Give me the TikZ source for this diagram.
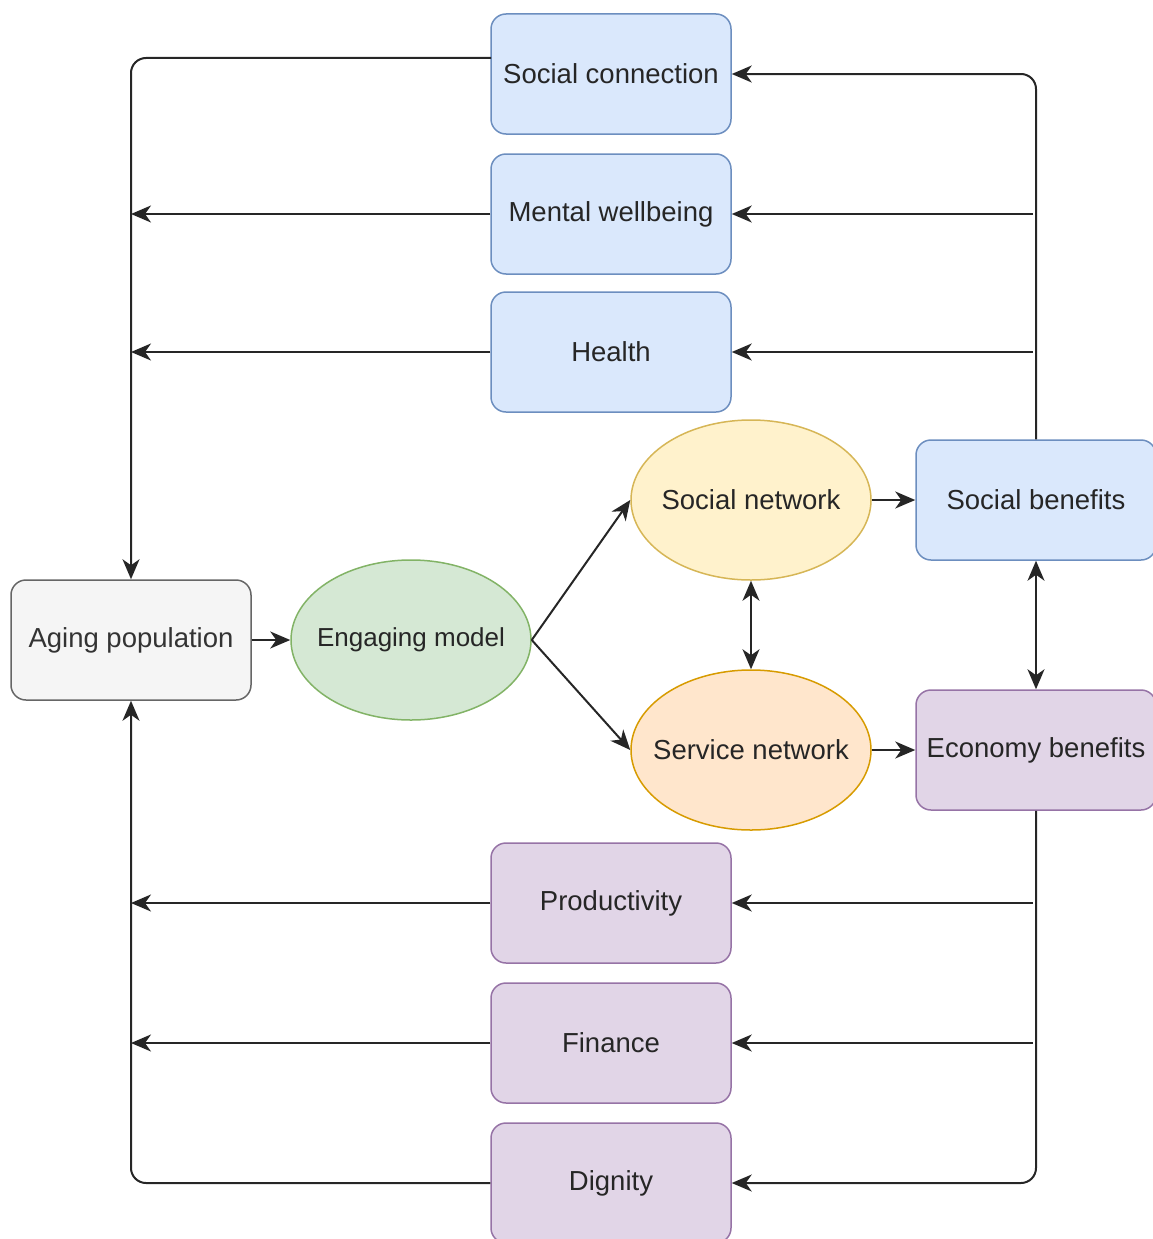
\documentclass[tikz,border=0pt]{standalone}
\usepackage{fontspec}
\setmainfont{Liberation Sans}
\usetikzlibrary{arrows.meta,shapes.geometric}

\definecolor{bluefill}{HTML}{DAE8FC}\definecolor{bluedraw}{HTML}{6C8EBF}
\definecolor{greenfill}{HTML}{D5E8D4}\definecolor{greendraw}{HTML}{82B366}
\definecolor{yellowfill}{HTML}{FFF2CC}\definecolor{yellowdraw}{HTML}{D6B656}
\definecolor{orangefill}{HTML}{FFE6CC}\definecolor{orangedraw}{HTML}{D79B00}
\definecolor{purplefill}{HTML}{E1D5E7}\definecolor{purpledraw}{HTML}{9673A6}
\definecolor{grayfill}{HTML}{F5F5F5}\definecolor{graydraw}{HTML}{666666}
\definecolor{graytext}{HTML}{333333}

% label set in a zero-width box, so an ellipse keeps its fixed size
\newcommand\ovallabel[1]{\makebox[0pt]{#1}}

\tikzset{
  base/.style={line width=1.5pt, font=\fontsize{27.5}{33}\selectfont, text=black!85, inner sep=0pt, align=center},
  box/.style={base, rectangle, rounded corners=15pt, minimum width=240pt, minimum height=120pt},
  oval/.style={base, ellipse, minimum width=240pt, minimum height=160pt},
  bluebox/.style={box, fill=bluefill, draw=bluedraw},
  purplebox/.style={box, fill=purplefill, draw=purpledraw},
  graybox/.style={box, fill=grayfill, draw=graydraw, text=graytext},
  head/.style={Stealth[length=20pt,width=17pt,inset=6pt]},
  link/.style={line width=2pt, draw=black!85, rounded corners=15pt, -{Stealth[length=20pt,width=17pt,inset=6pt]}},
  bilink/.style={link, {Stealth[length=20pt,width=17pt,inset=6pt]}-{Stealth[length=20pt,width=17pt,inset=6pt]}}
}

\begin{document}
\begin{tikzpicture}[x=1pt,y=-1pt]
\useasboundingbox (0,0) rectangle (1152,1239);

% outcome boxes, social side
\node[bluebox] (sc) at (611,74) {Social connection};
\node[bluebox] (mw) at (611,214) {Mental wellbeing};
\node[bluebox] (he) at (611,352) {Health};

% central chain
\node[graybox] (ap) at (131,640) {Aging population};
\node[oval, fill=greenfill, draw=greendraw, font=\fontsize{26}{31}\selectfont] (em) at (411,640) {\ovallabel{Engaging model}};
\node[oval, fill=yellowfill, draw=yellowdraw] (sn) at (751,500) {\ovallabel{Social network}};
\node[oval, fill=orangefill, draw=orangedraw] (sv) at (751,750) {\ovallabel{Service network}};
\node[bluebox] (sb) at (1036,500) {Social benefits};
\node[purplebox] (eb) at (1036,750) {Economy benefits};

% outcome boxes, economy side
\node[purplebox] (pr) at (611,903) {Productivity};
\node[purplebox] (fi) at (611,1043) {Finance};
\node[purplebox] (di) at (611,1183) {Dignity};

% junction points on the trunk lines
\coordinate (sc-out) at (491,58);
\coordinate (mw-in) at (1033,214);
\coordinate (he-in) at (1033,352);
\coordinate (pr-in) at (1033,903);
\coordinate (fi-in) at (1033,1043);
\coordinate (mw-out) at (131,214);
\coordinate (he-out) at (131,352);
\coordinate (pr-out) at (131,903);
\coordinate (fi-out) at (131,1043);

% main flow
\draw[link] (ap) -- (em);
\draw[link] (em.east) -- (sn.west);
\draw[link] (em.east) -- (sv.west);
\draw[link] (sn) -- (sb);
\draw[link] (sv) -- (eb);
\draw[bilink] (sn) -- (sv);
\draw[bilink] (sb) -- (eb);

% benefits feeding the outcomes
\draw[link] (sb.north) |- (sc.east);
\draw[link] (mw-in) -- (mw.east);
\draw[link] (he-in) -- (he.east);
\draw[link] (eb.south) |- (di.east);
\draw[link] (pr-in) -- (pr.east);
\draw[link] (fi-in) -- (fi.east);

% outcomes returning to the aging population
\draw[link] (sc-out) -| (ap.north);
\draw[link] (mw.west) -- (mw-out);
\draw[link] (he.west) -- (he-out);
\draw[link] (di.west) -| (ap.south);
\draw[link] (pr.west) -- (pr-out);
\draw[link] (fi.west) -- (fi-out);
\end{tikzpicture}
\end{document}
